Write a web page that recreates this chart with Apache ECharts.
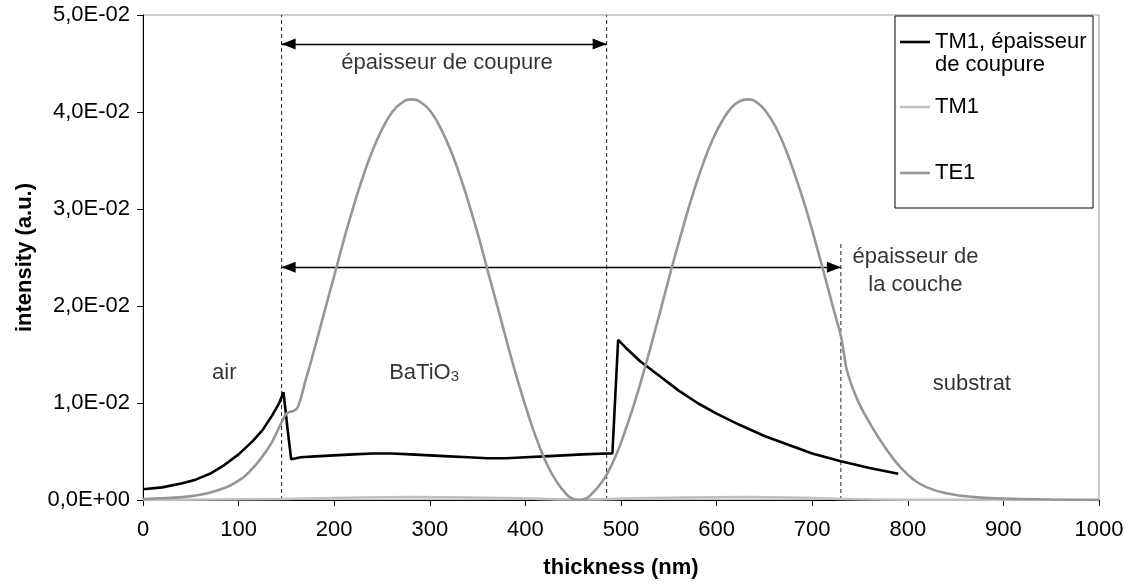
<!DOCTYPE html>
<html><head><meta charset="utf-8">
<script src="https://cdn.jsdelivr.net/npm/echarts@6/dist/echarts.min.js"></script>
<style>html,body{margin:0;padding:0;background:#fff}#c{width:1132px;height:585px}</style>
</head><body><div id="c"></div>
<script>
// ---- data (thickness in nm, intensity in a.u.) ----
const cutX = [0,20,40,55,70,85,100,115,125,135,142,147,151,155,165,180,200,220,240,260,280,300,320,340,360,380,400,420,440,460,485,491,497,505,520,540,560,580,600,625,650,675,700,730,760,790];
const cutY = [0.0011,0.0013,0.0017,0.0021,0.0027,0.0036,0.0047,0.0061,0.0072,0.0087,0.0099,0.0111,0.0075,0.0042,0.0044,0.0045,0.0046,0.0047,0.0048,0.0048,0.0047,0.0046,0.0045,0.0044,0.0043,0.0043,0.0044,0.0045,0.0046,0.0047,0.0048,0.0048,0.0165,0.0157,0.0143,0.0128,0.0113,0.0100,0.0089,0.0077,0.0066,0.0057,0.0048,0.0040,0.0033,0.0027];

const tmX = [0,145,200,281,380,456,530,632,700,730,800,1000];
const tmY = [0,0.0001,0.0002,0.0003,0.0002,0.00005,0.0002,0.0003,0.0002,0.0001,0.00003,0];

const teX = [0,25,50,75,100,115,125,135,145,150,154,158,162,170,180,190,200,210,220,230,240,250,260,270,281,292,302,312,322,332,342,352,362,372,382,392,402,412,422,432,442,450,456,462,470,478,486,496,506,516,526,536,546,556,566,576,586,596,606,616,624,632,642,652,662,672,682,692,702,712,722,730,733,737,747,758,769,780,793,806,820,840,870,900,950,1000];
const teY = [0.0001,0.0002,0.0004,0.0009,0.0020,0.0033,0.0045,0.0060,0.0080,0.0089,0.0091,0.0092,0.0096,0.0123,0.0158,0.0195,0.0231,0.0268,0.0302,0.0333,0.0360,0.0382,0.0399,0.0409,0.0413,0.0409,0.0399,0.0382,0.0360,0.0333,0.0302,0.0268,0.0231,0.0195,0.0158,0.0123,0.0091,0.0062,0.0038,0.0020,0.0007,0.0001,0.0000,0.0001,0.0007,0.0016,0.0028,0.0049,0.0076,0.0106,0.0140,0.0176,0.0213,0.0250,0.0285,0.0318,0.0347,0.0372,0.0391,0.0405,0.0411,0.0413,0.0410,0.0400,0.0384,0.0362,0.0335,0.0305,0.0271,0.0235,0.0198,0.0169,0.0152,0.0131,0.0104,0.0083,0.0065,0.0049,0.0033,0.0021,0.0013,0.0007,0.0003,0.00015,0.00005,0];

const seriesNames = ['TM1, épaisseur\nde coupure', 'TM1', 'TE1'];
const seriesColors = ['#000000', '#c0c0c0', '#969696'];

// interfaces (dashed guides)
const guideX = [145, 485, 730];
const guideTop = [0.05, 0.05, 0.0267];
// double arrows
const arrowFrom = [145, 145];
const arrowTo = [485, 730];
const arrowY = [0.047, 0.024];
// annotation texts
const noteText = ['air', 'BaTiO3', 'substrat', 'épaisseur de coupure', 'épaisseur de\nla couche'];
const noteX = [85, 294, 867, 318, 808];
const noteY = [0.0131, 0.0131, 0.0120, 0.0451, 0.0236];

const FONT = '"Liberation Sans", Arial, sans-serif';
const FS = 22;
// arrow head whose tip sits at the symbol centre (invisible dot extends the box)
const ARROW = 'path://M6,0L6.02,0L6,0.02Z M6,14L12,28L0,28Z';

function fmtSci(v) {
  if (v === 0) return '0,0E+00';
  const e = Math.floor(Math.log10(Math.abs(v)) + 1e-9);
  const m = v / Math.pow(10, e);
  return m.toFixed(1).replace('.', ',') + 'E' + (e < 0 ? '-' : '+') + String(Math.abs(e)).padStart(2, '0');
}
const pair = (xs, ys) => xs.map((x, i) => [x, ys[i]]);

const chart = echarts.init(document.getElementById('c'), null, {renderer: 'canvas'});

const series = [];
guideX.forEach((gx, i) => {
  series.push({
    type: 'line', silent: true, symbol: 'none', z: 1,
    data: [[gx, 0], [gx, guideTop[i]]],
    lineStyle: {color: '#222', width: 1, type: [4, 3]}
  });
});
const dataSets = [pair(cutX, cutY), pair(tmX, tmY), pair(teX, teY)];
dataSets.forEach((d, i) => {
  series.push({
    name: seriesNames[i], type: 'line', data: d, symbol: 'none', z: 3 + i,
    smooth: i === 0 ? false : true,
    lineStyle: {color: seriesColors[i], width: 2.6}, itemStyle: {color: seriesColors[i]}
  });
});
series.push({
  type: 'line', data: [], silent: true, z: 8,
  markLine: {
    silent: true, symbol: [ARROW, ARROW], symbolSize: [11, 28],
    lineStyle: {color: '#000', width: 1.3, type: 'solid'},
    itemStyle: {color: '#000'},
    label: {show: false},
    data: arrowFrom.map((a, i) => [{coord: [a, arrowY[i]]}, {coord: [arrowTo[i], arrowY[i]]}])
  }
});
series.push({
  type: 'scatter', silent: true, symbolSize: 1, z: 9,
  itemStyle: {color: 'rgba(0,0,0,0)'},
  data: noteText.map((t, i) => ({name: t, value: [noteX[i], noteY[i]]})),
  label: {
    show: true, position: 'inside', color: '#000', fontFamily: FONT, fontSize: FS,
    lineHeight: 28, align: 'center',
    formatter: p => p.name === 'BaTiO3' ? '{a|BaTiO}{s|3}' : p.name,
    rich: {
      a: {fontSize: FS, fontFamily: FONT, color: '#000', lineHeight: 22, verticalAlign: 'top'},
      s: {fontSize: 15, fontFamily: FONT, color: '#000', lineHeight: 15, verticalAlign: 'bottom', padding: [12, 0, 0, 0]}
    }
  }
});

// legend box drawn as graphic
const legX = 895, legY = 16, legW = 198, legH = 192;
const legRows = [42, 107, 173];
const graphic = [
  {type: 'rect', shape: {x: legX, y: legY, width: legW, height: legH}, style: {fill: '#fff', stroke: '#000', lineWidth: 1}, z: 20}
];
legRows.forEach((ry, i) => {
  graphic.push({type: 'line', shape: {x1: 900, y1: ry, x2: 930, y2: ry}, style: {stroke: seriesColors[i], lineWidth: 2.6}, z: 21});
  graphic.push({type: 'text', x: 935, y: ry - 11.5, style: {text: seriesNames[i], font: FS + 'px ' + FONT, fill: '#000', lineHeight: 23, textVerticalAlign: 'top'}, z: 21});
});

chart.setOption({
  animation: false,
  backgroundColor: '#fff',
  grid: {left: 143, right: 33, top: 15, bottom: 85, show: true, borderColor: '#999', borderWidth: 1, backgroundColor: '#fff'},
  xAxis: {
    type: 'value', min: 0, max: 1000, interval: 100,
    name: 'thickness (nm)', nameLocation: 'middle', nameGap: 57,
    nameTextStyle: {fontFamily: FONT, fontSize: FS, fontWeight: 'bold', color: '#000'},
    axisLine: {lineStyle: {color: '#000', width: 1}},
    axisTick: {show: true, length: 6, lineStyle: {color: '#000'}},
    axisLabel: {fontFamily: FONT, fontSize: FS, color: '#000', margin: 19, formatter: v => String(v)},
    splitLine: {show: false}
  },
  yAxis: {
    type: 'value', min: 0, max: 0.05, interval: 0.01,
    name: 'intensity (a.u.)', nameLocation: 'middle', nameGap: 107, nameRotate: 90,
    nameTextStyle: {fontFamily: FONT, fontSize: FS, fontWeight: 'bold', color: '#000'},
    axisLine: {show: true, lineStyle: {color: '#000', width: 1}},
    axisTick: {show: true, length: 6, lineStyle: {color: '#000'}},
    axisLabel: {fontFamily: FONT, fontSize: FS, color: '#000', margin: 13, formatter: fmtSci},
    splitLine: {show: false}
  },
  series: series,
  graphic: graphic
});
</script>
</body></html>
